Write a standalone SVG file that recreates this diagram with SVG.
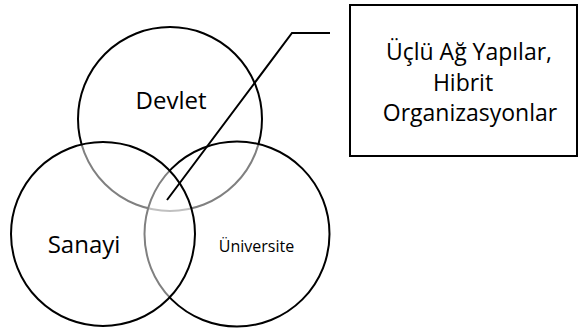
<svg xmlns="http://www.w3.org/2000/svg" width="579" height="329" viewBox="0 0 579 329">
  <style>
    .ring { fill: #ffffff; fill-opacity: 0.5; stroke: #000000; stroke-width: 2; }
    .base { fill: #ffffff; stroke: #000000; stroke-width: 2; }
    .label { font-family: "Open Sans", "Noto Sans", "Liberation Sans", sans-serif; fill: #000000; text-anchor: middle; }
    .big { font-size: 24px; }
    .small { font-size: 16px; }
    .note { font-size: 23px; }
    .leader { fill: none; stroke: #000000; stroke-width: 2; stroke-linejoin: miter; }
  </style>
  <rect width="579" height="329" fill="#ffffff"/>

  <!-- the three overlapping sets; each later circle half-veils the outlines beneath it -->
  <g id="devlet">
    <circle class="base" cx="170" cy="119" r="92"/>
    <text class="label big" x="171" y="109">Devlet</text>
  </g>
  <g id="universite">
    <circle class="ring" cx="237" cy="234" r="92.5"/>
    <text class="label small" x="256.5" y="252">Üniversite</text>
  </g>
  <g id="sanayi">
    <circle class="ring" cx="103" cy="234" r="92"/>
    <text class="label big" x="84" y="253">Sanayi</text>
  </g>

  <!-- callout box -->
  <g id="hibrit">
    <rect x="350" y="5" width="227" height="151" fill="#ffffff" stroke="#000000" stroke-width="2"/>
    <text class="label note" x="469" y="60">Üçlü Ağ Yapılar,</text>
    <text class="label note" x="463" y="91">Hibrit</text>
    <text class="label note" x="470" y="121">Organizasyonlar</text>
  </g>

  <!-- leader line from the callout into the shared centre -->
  <g id="connectors">
    <polyline class="leader" points="330,33 292,33 167,200"/>
  </g>
</svg>
